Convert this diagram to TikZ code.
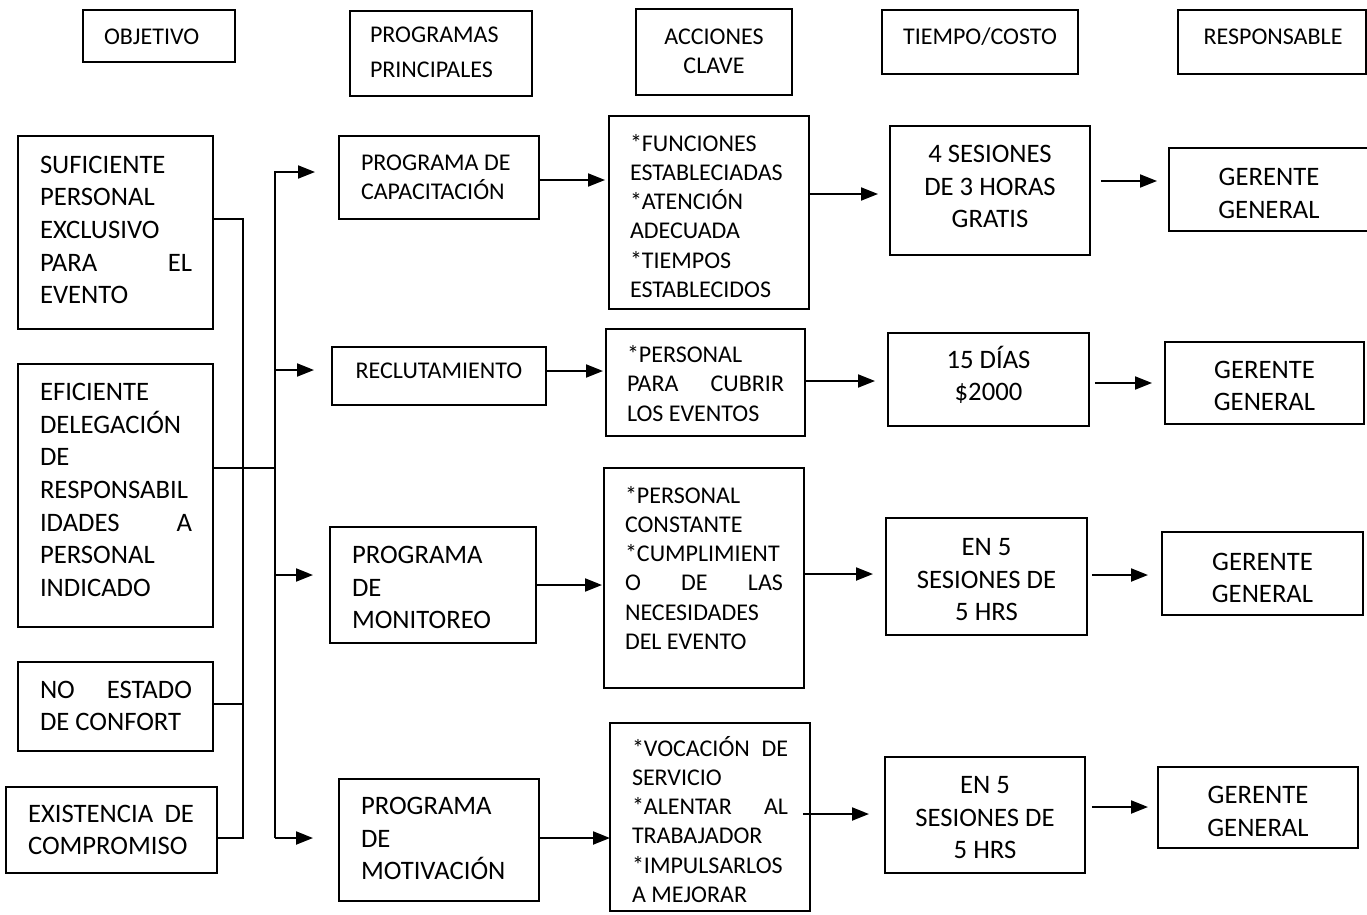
\documentclass[tikz,border=0pt]{standalone}
\usepackage{fontspec}
\setmainfont{Carlito}
\usetikzlibrary{arrows.meta,calc}

\tikzset{
  box/.style={draw, line width=1.8pt, inner sep=0pt},
  ltxt/.style={inner sep=0pt, align=flush left, text width=#1,
    execute at begin node=\strut, execute at end node=\strut},
  ctxt/.style={inner sep=0pt, align=flush center, text width=#1,
    execute at begin node=\strut, execute at end node=\strut},
  big/.style={font=\fontsize{26.67}{32.6}\selectfont},
  small/.style={font=\fontsize{24}{29.3}\selectfont},
  wire/.style={line width=1.6pt, line join=miter},
  arr/.style={line width=2pt, line join=miter, -{Triangle[length=17pt,width=13pt]}},
}

\begin{document}
\begin{tikzpicture}[x=1pt, y=-1pt]
\useasboundingbox (0,0) rectangle (1367,914);
\fill[white] (0,0) rectangle (1367,914);

% column headers
\node[box, minimum width=152pt, minimum height=52pt] (hobj) at (159,36) {};
\node[ltxt=110, small] (hobjt) at (159,39) {OBJETIVO};
\node[box, minimum width=182pt, minimum height=85pt] (hprog) at (441,53.5) {};
\node[ltxt=140, font=\fontsize{24}{35}\selectfont] (hprogt) at (440,53.2) {PROGRAMAS\\PRINCIPALES};
\node[box, minimum width=156pt, minimum height=86pt] (hacc) at (714,52) {};
\node[ctxt=150, small] (hacct) at (714,53) {ACCIONES\\CLAVE};
\node[box, minimum width=196pt, minimum height=64pt] (htime) at (980,42) {};
\node[ctxt=190, small] (htimet) at (980,39) {TIEMPO/COSTO};
\node[box, minimum width=188pt, minimum height=64pt] (hresp) at (1272,42) {};
\node[ctxt=180, small] (hrespt) at (1273,39) {RESPONSABLE};

% objectives
\node[box, minimum width=195pt, minimum height=193pt] (o1) at (115.5,232.5) {};
\node[ltxt=152, big] (o1t) at (116,232) {SUFICIENTE\\PERSONAL\\EXCLUSIVO\\PARA\hfill EL\\EVENTO};
\node[box, minimum width=195pt, minimum height=263pt] (o2) at (115.5,495.5) {};
\node[ltxt=152, big] (o2t) at (116,492) {EFICIENTE\\DELEGACIÓN\\DE\\RESPONSABIL\\IDADES\hfill A\\PERSONAL\\INDICADO};
\node[box, minimum width=195pt, minimum height=89pt] (o3) at (115.5,706.5) {};
\node[ltxt=152, big] (o3t) at (116,708) {NO\hfill ESTADO\\DE CONFORT};
\node[box, minimum width=211pt, minimum height=86pt] (o4) at (111.5,830) {};
\node[ltxt=166, big] (o4t) at (111,832) {EXISTENCIA\hfill DE\\COMPROMISO};

% programmes
\node[box, minimum width=200pt, minimum height=83pt] (p1) at (439,177.5) {};
\node[ltxt=165, small] (p1t) at (443.5,179.4) {PROGRAMA DE\\CAPACITACIÓN};
\node[box, minimum width=214pt, minimum height=58pt] (p2) at (439,376) {};
\node[ctxt=190, small] (p2t) at (439,373) {RECLUTAMIENTO};
\node[box, minimum width=206pt, minimum height=116pt] (p3) at (433,585) {};
\node[ltxt=165, big] (p3t) at (434.5,589.6) {PROGRAMA\\DE\\MONITOREO};
\node[box, minimum width=200pt, minimum height=122pt] (p4) at (439,840) {};
\node[ltxt=165, big] (p4t) at (443.5,840.6) {PROGRAMA\\DE\\MOTIVACIÓN};

% key actions
\node[box, minimum width=200pt, minimum height=193pt] (a1) at (709,212.5) {};
\node[ltxt=160, small] (a1t) at (710,218.4) {*FUNCIONES\\ESTABLECIADAS\\{}*ATENCIÓN\\ADECUADA\\{}*TIEMPOS\\ESTABLECIDOS};
\node[box, minimum width=199pt, minimum height=107pt] (a2) at (705.5,382.5) {};
\node[ltxt=157, small] (a2t) at (705.5,386) {*PERSONAL\\PARA\hfill CUBRIR\\LOS EVENTOS};
\node[box, minimum width=200pt, minimum height=220pt] (a3) at (704,578) {};
\node[ltxt=158, small] (a3t) at (704,570.4) {*PERSONAL\\CONSTANTE\\{}*CUMPLIMIENT\\O\hfill DE\hfill LAS\\NECESIDADES\\DEL EVENTO};
\node[box, minimum width=200pt, minimum height=188pt] (a4) at (710,817) {};
\node[ltxt=156, small] (a4t) at (710,823.4) {*VOCACIÓN\hfill DE\\SERVICIO\\{}*ALENTAR\hfill AL\\TRABAJADOR\\{}*IMPULSARLOS\\A MEJORAR};

% time / cost
\node[box, minimum width=200pt, minimum height=129pt] (t1) at (990,190.5) {};
\node[ctxt=190, big] (t1t) at (990,188.6) {4 SESIONES\\DE 3 HORAS\\GRATIS};
\node[box, minimum width=201pt, minimum height=93pt] (t2) at (988.5,379.5) {};
\node[ctxt=190, big] (t2t) at (988.5,378) {15 DÍAS\\\$2000};
\node[box, minimum width=201pt, minimum height=117pt] (t3) at (986.5,576.5) {};
\node[ctxt=190, big] (t3t) at (986.5,581.6) {EN 5\\SESIONES DE\\5 HRS};
\node[box, minimum width=200pt, minimum height=116pt] (t4) at (985,815) {};
\node[ctxt=190, big] (t4t) at (985,819.6) {EN 5\\SESIONES DE\\5 HRS};

% responsible
\node[box, minimum width=201pt, minimum height=83pt] (r1) at (1269.5,189.5) {};
\node[ctxt=180, big] (r1t) at (1269,195.6) {GERENTE\\GENERAL};
\node[box, minimum width=199pt, minimum height=82pt] (r2) at (1264.5,383) {};
\node[ctxt=180, big] (r2t) at (1264.5,388) {GERENTE\\GENERAL};
\node[box, minimum width=201pt, minimum height=83pt] (r3) at (1262.5,573.5) {};
\node[ctxt=180, big] (r3t) at (1262.5,580) {GERENTE\\GENERAL};
\node[box, minimum width=200pt, minimum height=81pt] (r4) at (1258,807.5) {};
\node[ctxt=180, big] (r4t) at (1258,813.6) {GERENTE\\GENERAL};

% collecting buses on the left
\coordinate (k1) at (243,219);
\coordinate (k3) at (243,704);
\coordinate (k4) at (243,838);
\coordinate (j2) at (275,468);
\coordinate (m1) at (275,172);
\coordinate (m2) at (275,370);
\coordinate (m3) at (275,575);
\coordinate (m4) at (275,838);
\coordinate (q1) at (315,172);
\coordinate (q2) at (314,370);
\coordinate (q3) at (313,575);
\coordinate (q4) at (313,838);

\draw[wire] (o1.east |- k1) -- (k1) -- (k4) -- (o4.east |- k4);
\draw[wire] (o3.east |- k3) -- (k3);
\draw[wire] (o2.east |- j2) -- (j2);
\draw[arr] (m4) -- (m1) -- (q1);
\draw[arr] (m2) -- (q2);
\draw[arr] (m3) -- (q3);
\draw[arr] (m4) -- (q4);

% programme -> actions
\coordinate (u1) at (605,180);
\coordinate (u2) at (603,371);
\coordinate (u3) at (602,585);
\coordinate (u4) at (610,838);
\draw[arr] (p1.east |- u1) -- (u1);
\draw[arr] (p2.east |- u2) -- (u2);
\draw[arr] (p3.east |- u3) -- (u3);
\draw[arr] (p4.east |- u4) -- (u4);

% actions -> time / cost
\coordinate (v1) at (878,194);
\coordinate (v2) at (875,381);
\coordinate (v3) at (873,574);
\coordinate (v4) at (869,814);
\draw[arr] (a1.east |- v1) -- (v1);
\draw[arr] (a2.east |- v2) -- (v2);
\draw[arr] (a3.east |- v3) -- (v3);
\draw[arr] ($(a4.east |- v4)+(-8,0)$) -- (v4);

% time / cost -> responsible
\coordinate (w1) at (1157,181);
\coordinate (w2) at (1152,383);
\coordinate (w3) at (1148,575);
\coordinate (w4) at (1148,807);
\draw[arr] ($(t1.east |- w1)+(10,0)$) -- (w1);
\draw[arr] ($(t2.east |- w2)+(5,0)$) -- (w2);
\draw[arr] ($(t3.east |- w3)+(4,0)$) -- (w3);
\draw[arr] ($(t4.east |- w4)+(6,0)$) -- (w4);
\end{tikzpicture}
\end{document}
